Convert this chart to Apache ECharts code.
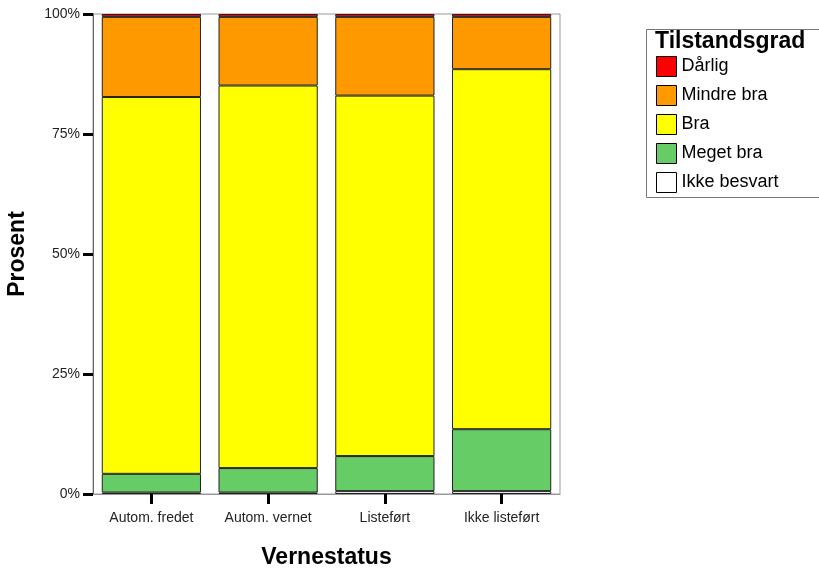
<!DOCTYPE html>
<html><head><meta charset="utf-8">
<script src="https://cdn.jsdelivr.net/npm/echarts@6/dist/echarts.min.js"></script>
<style>html,body{margin:0;padding:0;background:#fff}#c{width:819px;height:568px}</style>
</head><body><div id="c"></div>
<script>
const categories = ['Autom. fredet', 'Autom. vernet', 'Listeført', 'Ikke listeført'];
const ikkeBesvart = [0.3, 0.3, 0.6, 0.6];
const megetBra = [3.9, 5.1, 7.3, 12.9];
const bra = [78.5, 79.7, 75.1, 75.0];
const mindreBra = [16.7, 14.3, 16.4, 10.9];
const darlig = [0.6, 0.6, 0.6, 0.6];
const yTicks = [0, 25, 50, 75, 100];

const font = 'Liberation Sans, Arial, sans-serif';
const seriesDefs = [
  ['Ikke besvart', ikkeBesvart, '#ffffff'],
  ['Meget bra', megetBra, '#66cc66'],
  ['Bra', bra, '#ffff00'],
  ['Mindre bra', mindreBra, '#ff9900'],
  ['Dårlig', darlig, '#ff0000']
];
const chart = echarts.init(document.getElementById('c'));
chart.setOption({
  animation: false,
  grid: {left: 93, right: 259, top: 14, bottom: 74, show: true, borderColor: '#999', borderWidth: 1,
         containLabel: false, outerBoundsMode: 'none'},
  xAxis: {
    type: 'category', data: categories,
    axisLine: {lineStyle: {color: '#999', width: 1}},
    axisTick: {show: true, alignWithLabel: true, length: 10, lineStyle: {color: '#000', width: 3}},
    axisLabel: {color: '#222', fontFamily: font, fontSize: 14, margin: 17},
    name: 'Vernestatus', nameLocation: 'middle', nameGap: 52,
    nameTextStyle: {fontFamily: font, fontSize: 23, fontWeight: 'bold', color: '#000'}
  },
  yAxis: {
    type: 'value', min: 0, max: 100, interval: 25,
    axisLine: {show: true, lineStyle: {color: '#666', width: 1}},
    axisTick: {show: true, length: 10, lineStyle: {color: '#000', width: 3}},
    splitLine: {show: false},
    axisLabel: {formatter: v => yTicks.includes(v) ? v + '%' : '', color: '#222', fontFamily: font, fontSize: 14, margin: 13},
    name: 'Prosent', nameLocation: 'middle', nameGap: 64,
    nameTextStyle: {fontFamily: font, fontSize: 23, fontWeight: 'bold', color: '#000'}
  },
  legend: {
    orient: 'vertical', left: 656, top: 56, padding: 0,
    data: ['Dårlig', 'Mindre bra', 'Bra', 'Meget bra', 'Ikke besvart'],
    itemWidth: 20, itemHeight: 20, itemGap: 8, icon: 'rect',
    itemStyle: {borderColor: '#000', borderWidth: 1},
    textStyle: {fontFamily: font, fontSize: 18, color: '#000'}
  },
  graphic: [
    {type: 'rect', left: 644, top: 27, shape: {width: 190, height: 168}, style: {fill: 'none', stroke: '#777', lineWidth: 1}, z: 0},
    {type: 'text', left: 655, top: 30, style: {text: 'Tilstandsgrad', font: 'bold 23px ' + font, fill: '#000'}}
  ],
  series: seriesDefs.map(([name, data, color]) => ({
    name, type: 'bar', stack: 'total', data, barCategoryGap: '15%',
    itemStyle: {color, borderColor: '#222', borderWidth: 1}
  }))
});
</script></body></html>
